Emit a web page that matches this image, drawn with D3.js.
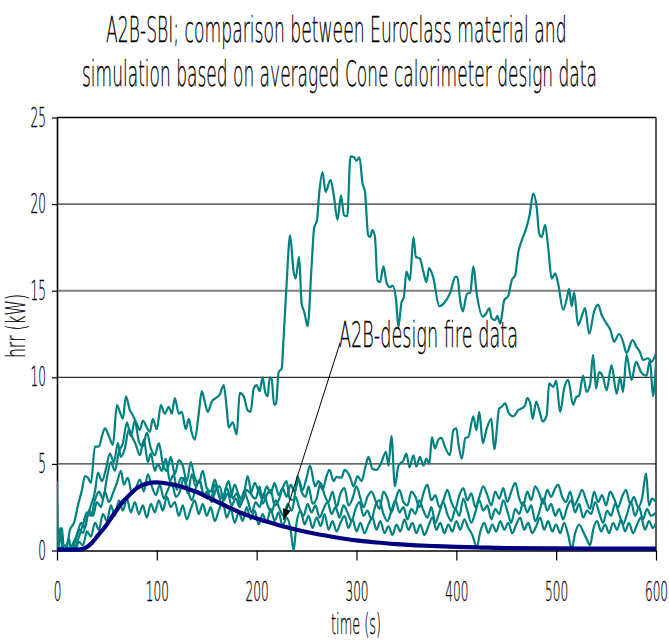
<!DOCTYPE html>
<html><head><meta charset="utf-8">
<script src="https://cdn.jsdelivr.net/npm/d3@7"></script>
<style>
body{margin:0;background:#fff;}
svg{display:block;}
text{font-family:"DejaVu Sans",sans-serif;font-weight:200;fill:#000;stroke:#000;stroke-width:0.3;}
</style></head><body>
<svg id="c" width="669" height="642"></svg>
<script>
// ---------- data ----------
const xTicks=[0,100,200,300,400,500,600];
const yTicks=[0,5,10,15,20,25];
const titleLines=["A2B-SBI; comparison between Euroclass material and","simulation based on averaged Cone calorimeter design data"];
const xLabel="time (s)";
const yLabel="hrr (kW)";
const annotation="A2B-design fire data";

const designFire=[[0,0.05],[10,0.05],[20,0.05],[25,0.08],[30,0.2],[35,0.45],[40,0.8],[45,1.15],[50,1.5],[55,1.95],[60,2.35],[65,2.75],[70,3.05],[75,3.35],[80,3.6],[85,3.76],[90,3.86],[95,3.92],[100,3.93],[105,3.91],[110,3.87],[115,3.82],[120,3.75],[130,3.58],[140,3.38],[150,3.1],[160,2.82],[170,2.55],[180,2.28],[190,2.05],[200,1.85],[210,1.67],[220,1.5],[230,1.34],[240,1.2],[260,0.95],[280,0.75],[300,0.58],[320,0.46],[340,0.37],[360,0.3],[380,0.25],[400,0.21],[425,0.17],[450,0.14],[500,0.12],[550,0.11],[600,0.11]];

const seriesA=[[0,0],[5,0.1],[9,0],[13,1.2],[17,1.6],[21,2.6],[25,3.5],[28,4.3],[31,4.2],[34,3.9],[38,6.0],[42,6.0],[45,6.6],[48,7.05],[52,6.6],[56,6.1],[60,8.4],[63,8.0],[66,7.6],[69,8.9],[73,8.1],[76,7.8],[80,7.3],[83,6.95],[86,7.5],[90,7.1],[93,6.85],[96,7.6],[100,7.0],[104,8.4],[108,7.9],[112,8.3],[115,7.9],[118,8.8],[122,7.9],[125,8.0],[129,7.0],[132,7.6],[135,6.8],[138,6.4],[142,7.9],[145,9.2],[148,8.6],[151,8.0],[155,8.6],[159,8.8],[163,9.0],[167,9.55],[170,8.2],[172,7.1],[176,7.4],[180,6.7],[183,9.1],[187,8.9],[191,8.1],[194,8.0],[197,9.35],[200,9.55],[203,9.2],[206,10.0],[208.5,9.15],[211,8.9],[213,10.0],[215,9.9],[217.5,8.4],[219.5,8.5],[222,10.3],[225,10.5],[227,12.3],[230,15.4],[233.5,18.2],[237,16.1],[239,15.7],[242.5,16.95],[245,14.3],[248,13.7],[251,12.95],[255,16.4],[257.5,18.6],[260.5,19.1],[262.6,20.6],[266,21.85],[269,20.7],[274,21.4],[277,20.6],[281,19.1],[284.5,20.5],[287.5,19.35],[290.7,19.3],[294,22.75],[297.5,22.7],[300,22.5],[303,22.7],[306,21.2],[308.5,20.7],[311.7,18.2],[313.5,18.1],[316,18.5],[318.5,18.1],[321,15.6],[323.5,15.5],[327,16.4],[330,15.5],[333.5,15.2],[336,15.3],[339.5,14.55],[342,12.9],[345,14.3],[347.5,14.65],[350,16.1],[353.5,15.6],[357,18.1],[359.5,16.95],[363.5,16.85],[367,16.1],[370,15.5],[372.7,16.3],[376.7,15.8],[383,14.1],[388,14.3],[394,14.9],[399,15.8],[401,15.8],[404,14.35],[406.5,13.8],[410.5,14.8],[414,14.9],[417,16.4],[420.5,14.8],[426.5,13.5],[430,13.7],[433,14.0],[435.5,13.4],[439,13.3],[441,13.55],[444,13.1],[448,14.45],[452,14.7],[455.5,15.6],[459,15.9],[462,17.2],[465.5,17.9],[470,18.6],[473,19.25],[477,20.6],[480.5,19.8],[483,18.3],[485.5,18.1],[489,18.8],[492,17.5],[495.5,15.7],[499,16.0],[502,15.4],[507,13.9],[510.5,14.5],[513,15.1],[515.5,14.1],[518,14.9],[522,13.0],[525.5,13.5],[529,14.0],[533,12.5],[538,13.8],[542,14.2],[545.5,13.6],[550.5,13.1],[554.5,12.7],[558,12.05],[563,12.5],[566.5,12.15],[570.5,11.4],[576.5,12.15],[580.5,11.75],[584,11.45],[587,11.0],[592,11.1],[595.5,10.9],[600,11.4]];

const seriesB=[[0,0],[10,0],[18,0.2],[22,0.8],[26,1.5],[30,2.2],[34,2.0],[38,2.9],[42,3.4],[46,3.0],[50,4.2],[54,5.1],[58,4.6],[62,5.7],[66,6.2],[70,7.4],[74,6.6],[78,7.5],[82,6.3],[86,6.0],[90,6.8],[94,5.9],[98,5.5],[102,6.2],[106,5.0],[110,4.6],[114,5.4],[118,4.4],[122,5.2],[126,4.9],[130,4.0],[134,5.1],[138,4.2],[142,3.9],[146,4.6],[150,3.6],[154,3.4],[158,4.1],[162,3.3],[166,3.0],[170,3.6],[174,3.1],[178,3.8],[182,3.2],[186,2.9],[190,3.5],[194,3.3],[198,3.9],[202,3.4],[206,3.0],[210,3.7],[214,3.3],[218,3.9],[222,3.2],[226,3.6],[230,3.1],[234,3.8],[238,3.4],[242,4.1],[246,3.5],[250,4.2],[253.5,4.9],[258.5,3.7],[262,4.0],[266,3.5],[270,4.3],[273,4.65],[277,4.0],[280,4.25],[285,4.2],[288,4.65],[293.5,4.25],[297,3.7],[301,4.3],[305,4.0],[309,4.85],[312,5.4],[316,4.7],[320,4.65],[325,5.1],[329.5,5.7],[332,4.9],[335,6.6],[338.5,3.7],[342,4.9],[347,5.2],[350,5.6],[353,4.8],[357,5.5],[360,4.85],[363.5,5.4],[367,4.9],[370,5.3],[373,5.0],[375.5,6.55],[378.5,5.9],[382,6.4],[385,6.5],[388.5,6.0],[393.5,5.5],[397,6.95],[400,7.05],[402,6.2],[405.5,5.3],[409,6.5],[412,6.55],[417,7.75],[420,6.95],[423,8.0],[426.5,6.2],[430.5,7.05],[435,7.6],[438,5.85],[443,8.2],[445.5,8.3],[449,8.5],[452,8.0],[457,7.75],[462,8.1],[465.5,8.2],[469,8.4],[471,8.8],[474,8.5],[476.5,7.6],[480,8.6],[483,8.1],[486.5,7.45],[490.5,7.8],[493,9.65],[497,9.45],[500,9.8],[504,8.0],[508,9.35],[512,9.85],[517,8.4],[520,8.85],[523,8.95],[527,10.1],[530.5,9.15],[534,9.6],[537,11.3],[540,9.35],[543,10.3],[547,10.0],[550.5,9.25],[555.5,10.7],[560.5,9.05],[564,10.0],[567,9.15],[570.5,11.3],[575.5,9.85],[580,10.9],[585,10.3],[590.5,10.1],[594,11.0],[597,8.9],[600,10.9]];

const seriesC=[[0,0],[8,0.3],[14,0],[18,0.5],[22,1.2],[26,1.0],[30,1.9],[34,2.6],[38,3.4],[41,4.5],[45,4.0],[49,4.7],[53,5.6],[57,5.1],[61,6.2],[64,5.4],[68,5.9],[72,7.0],[75,6.6],[79,6.1],[83,5.5],[87,6.4],[91,5.1],[94,5.6],[98,4.6],[101,5.0],[105,4.6],[109,5.3],[113,4.0],[117,4.4],[120,3.5],[124,4.2],[128,4.0],[131,3.3],[135,4.4],[139,3.7],[143,4.1],[147,3.1],[150,3.4],[154,2.9],[158,3.8],[162,3.2],[165,2.7],[169,3.6],[172,4.0],[176,3.0],[180,3.3],[184,2.6],[188,3.5],[191,4.3],[195,3.2],[199,3.0],[203,3.7],[206,2.7],[210,3.2],[214,3.5],[218,2.6],[222,2.9],[226,3.6],[230,4.0],[233,3.0],[237,2.9],[241,4.3],[245,3.4],[249,3.1],[252,3.7],[256,2.7],[260,3.0],[264,3.9],[268,3.2],[272,2.8],[276,3.4],[280,2.5],[284,3.3],[288,3.6],[292,2.6],[296,3.0],[300,3.7],[304,3.0],[307,2.5],[311,3.1],[315,3.4],[319,2.9],[323,2.4],[327,3.4],[331,3.0],[335,2.2],[339,2.9],[343,3.5],[347,2.8],[351,2.6],[355,3.4],[359,3.1],[363,2.5],[367,3.3],[371,3.8],[375,2.9],[379,3.2],[383,2.5],[387,2.9],[391,3.5],[395,2.8],[399,2.4],[403,3.2],[407,3.6],[411,2.9],[415,3.3],[419,2.5],[423,3.1],[427,3.7],[431,3.2],[435,2.6],[439,3.4],[443,3.0],[447,3.6],[451,2.8],[455,3.4],[459,3.9],[463,3.0],[467,2.6],[471,3.4],[475,2.9],[479,3.7],[483,3.3],[487,2.7],[491,3.5],[495,3.1],[499,3.6],[502,3.8],[506,3.1],[510,2.8],[514,3.4],[518,2.6],[522,3.0],[526,3.5],[530,2.9],[534,2.4],[538,3.4],[542,2.8],[546,3.2],[550,2.6],[554,3.4],[558,3.0],[562,2.5],[566,3.1],[570,3.5],[574,2.7],[578,3.1],[582,2.5],[586,3.0],[590,4.45],[593,2.6],[596,3.0],[600,2.8]];

const seriesD=[[0,0],[5,1.3],[7,0],[12,0],[16,0.4],[20,0.9],[24,1.6],[28,1.3],[32,2.3],[36,2.0],[40,2.8],[44,2.5],[48,3.4],[52,2.8],[56,3.3],[60,3.9],[64,4.6],[67,3.8],[71,4.2],[75,3.3],[79,3.6],[83,4.1],[87,3.4],[91,4.4],[95,3.7],[99,3.2],[103,3.8],[107,3.0],[111,3.5],[115,3.9],[119,3.1],[123,3.4],[127,4.2],[131,3.5],[135,2.9],[139,3.6],[143,4.0],[147,3.2],[151,3.4],[155,2.8],[159,3.5],[163,3.7],[167,2.9],[171,3.3],[175,2.6],[179,3.0],[183,2.5],[187,3.4],[191,2.9],[195,2.2],[199,2.8],[203,2.5],[207,3.3],[211,2.6],[215,2.2],[219,2.9],[223,2.4],[227,2.0],[231,2.7],[235,2.3],[239,3.1],[243,2.4],[247,2.0],[251,2.7],[255,2.2],[259,2.6],[263,1.9],[267,2.4],[271,2.8],[275,2.1],[279,2.5],[283,1.9],[287,2.6],[291,2.2],[295,1.7],[299,2.4],[303,2.8],[307,2.0],[311,2.3],[315,1.8],[319,2.6],[323,2.9],[327,2.1],[331,1.7],[335,2.3],[339,2.9],[343,2.2],[347,2.5],[351,1.8],[355,2.4],[359,2.1],[363,2.9],[367,2.3],[371,1.9],[375,2.5],[379,1.6],[383,2.2],[387,2.8],[391,2.1],[395,1.7],[399,2.4],[403,2.0],[407,3.0],[411,2.3],[415,1.6],[419,2.2],[423,2.9],[427,2.3],[431,2.6],[435,1.8],[439,2.4],[443,2.1],[447,2.9],[451,2.3],[455,1.6],[459,2.4],[463,2.1],[467,2.8],[471,2.2],[475,2.6],[479,1.7],[483,2.2],[487,3.0],[491,2.3],[495,2.7],[499,2.0],[503,2.4],[507,1.8],[511,2.5],[515,2.9],[519,2.2],[523,2.7],[527,1.9],[531,2.3],[535,2.1],[539,2.8],[543,2.2],[547,1.6],[551,2.3],[555,2.0],[559,2.7],[563,2.1],[567,1.5],[571,2.1],[575,2.8],[579,2.0],[583,2.5],[587,1.8],[591,2.4],[595,2.0],[600,2.2]];

const seriesE=[[0,4.0],[1.5,0],[3,1.3],[5,0.3],[8,0],[12,0.7],[14,0],[18,0],[22,0.5],[26,0.3],[30,1.1],[34,0.8],[38,1.6],[42,1.2],[46,2.1],[50,1.7],[54,2.6],[58,2.0],[62,2.9],[66,2.3],[70,3.0],[74,2.2],[78,2.8],[82,2.1],[86,2.6],[90,1.9],[94,2.7],[98,2.2],[102,2.9],[106,2.3],[110,3.1],[114,2.5],[118,2.8],[122,2.0],[126,2.6],[130,1.8],[134,2.4],[138,2.9],[142,2.1],[146,2.7],[150,2.0],[154,2.5],[158,1.7],[162,2.3],[166,2.8],[170,1.9],[174,2.4],[178,1.6],[182,2.2],[186,1.7],[190,2.5],[194,1.8],[198,2.3],[202,1.5],[206,2.1],[210,1.6],[214,2.4],[218,1.7],[222,2.2],[226,1.4],[230,1.9],[234,1.2],[237,0.0],[240,1.6],[244,2.3],[248,1.5],[252,2.0],[256,1.3],[260,1.9],[264,1.4],[268,2.1],[272,1.2],[276,1.7],[280,1.1],[284,1.6],[288,2.0],[292,1.3],[296,1.8],[300,1.1],[304,1.6],[308,1.0],[312,1.5],[316,1.9],[320,1.2],[324,1.7],[328,1.0],[332,1.4],[336,0.9],[340,1.5],[344,1.1],[348,1.8],[352,1.2],[356,1.6],[360,1.0],[364,1.5],[368,0.9],[372,1.4],[376,1.9],[380,1.2],[384,1.6],[388,1.0],[392,1.5],[396,1.1],[400,1.7],[404,1.2],[408,1.8],[412,1.3],[416,0.9],[420.5,0.2],[424,1.1],[428,1.6],[432,1.0],[436,1.5],[440,1.1],[444,1.7],[448,1.2],[452,1.6],[456,1.0],[460,1.5],[464,1.9],[468,1.2],[472,1.6],[476,1.0],[480,1.4],[484,1.9],[488,1.2],[492,1.7],[496,1.1],[500,1.5],[504,1.0],[508,1.6],[512,0.9],[515.5,0.1],[519,1.0],[523,1.5],[527,1.1],[531,0.6],[534,0.3],[537,1.2],[541,1.7],[545,1.1],[549,1.5],[553,1.0],[557,1.6],[561,1.2],[565,1.8],[569,1.1],[573,1.6],[577,1.0],[581,1.5],[585,1.9],[589,1.2],[593,1.7],[597,1.3],[600,1.6]];

const tealSeries=[seriesA,seriesB,seriesC,seriesD,seriesE];

// ---------- chart ----------
const W=669,H=642;
const m={left:57,right:13,top:117.5,bottom:91.5};
const svg=d3.select("#c");
const x=d3.scaleLinear().domain([0,600]).range([m.left,W-m.right]);
const y=d3.scaleLinear().domain([0,25]).range([H-m.bottom,m.top]);
const SX=0.45;

// grid
svg.append("g").selectAll("line").data(yTicks.filter(d=>d>0&&d<25)).join("line")
  .attr("x1",x(0)).attr("x2",x(600)).attr("y1",d=>y(d)).attr("y2",d=>y(d))
  .attr("stroke",d=>d===15?"#808080":"#333").attr("stroke-width",d=>d===15?2:1.2);
svg.append("line").attr("x1",x(0)).attr("x2",x(600)).attr("y1",y(25)).attr("y2",y(25)).attr("stroke","#000").attr("stroke-width",1.3);
svg.append("line").attr("x1",x(600)).attr("x2",x(600)).attr("y1",y(25)).attr("y2",y(0)).attr("stroke","#000").attr("stroke-width",1.3);

// axes
const gx=svg.append("g").attr("transform",`translate(0,${y(0)})`)
  .call(d3.axisBottom(x).tickValues(xTicks).tickSize(10).tickSizeOuter(0).tickPadding(21));
const gy=svg.append("g").attr("transform",`translate(${x(0)},0)`)
  .call(d3.axisLeft(y).tickValues(yTicks).tickSize(5).tickSizeOuter(0).tickPadding(7));
[gx,gy].forEach(g=>{
  g.selectAll("path.domain").attr("stroke","#000").attr("stroke-width",1.6);
  g.selectAll(".tick line").attr("stroke","#000").attr("stroke-width",1.2);
  g.selectAll("text").attr("font-family","DejaVu Sans").attr("font-size",27).attr("font-weight",200)
    .attr("fill","#000").attr("stroke","#000").attr("stroke-width",0.3);
});
gx.selectAll(".tick text").attr("transform",`scale(${SX},1)`);
gy.selectAll(".tick text").attr("x",0).attr("transform",`translate(-11,0) scale(${SX},1)`);

// series
svg.append("clipPath").attr("id","pc").append("rect")
  .attr("x",x(0)).attr("y",y(25)).attr("width",x(600)-x(0)).attr("height",y(0)-y(25)+2);
const line=d3.line().x(d=>x(d[0])).y(d=>y(d[1])).curve(d3.curveMonotoneX);
const plot=svg.append("g").attr("clip-path","url(#pc)");
plot.selectAll("path.teal").data(tealSeries).join("path").attr("class","teal")
  .attr("d",line).attr("fill","none").attr("stroke","#008080").attr("stroke-width",2.2).attr("stroke-linejoin","round");
plot.append("path").datum(designFire).attr("d",line).attr("fill","none")
  .attr("stroke","#000080").attr("stroke-width",4.2).attr("stroke-linecap","round");

// condensed text helper: squeeze horizontally to a measured target width
function condText(str,tx,ty,size,targetW,anchor,rot){
  const t=svg.append("text").attr("font-size",size).attr("text-anchor",anchor||"start").text(str);
  const w=t.node().getComputedTextLength();
  const s=targetW/w;
  t.attr("transform",`translate(${tx},${ty})${rot?` rotate(${rot})`:""} scale(${s},1)`);
  return t;
}
condText(titleLines[0],106,42,36,461);
condText(titleLines[1],82,86,36,515);
condText(xLabel,331,634,29,50);
condText(yLabel,25,326,27,64,"middle",-90);
condText(annotation,339,347,36,179);

// annotation arrow
const tip=[283.5,520], start=[340,343];
svg.append("line").attr("x1",start[0]).attr("y1",start[1]).attr("x2",tip[0]).attr("y2",tip[1])
  .attr("stroke","#000").attr("stroke-width",1);
const ang=Math.atan2(tip[1]-start[1],tip[0]-start[0]);
const L=11,Wd=4;
const bx=tip[0]-L*Math.cos(ang), by=tip[1]-L*Math.sin(ang);
svg.append("path").attr("d",`M${tip[0]},${tip[1]}L${bx+Wd*Math.sin(ang)},${by-Wd*Math.cos(ang)}L${bx-Wd*Math.sin(ang)},${by+Wd*Math.cos(ang)}Z`).attr("fill","#000");
</script>
</body></html>
